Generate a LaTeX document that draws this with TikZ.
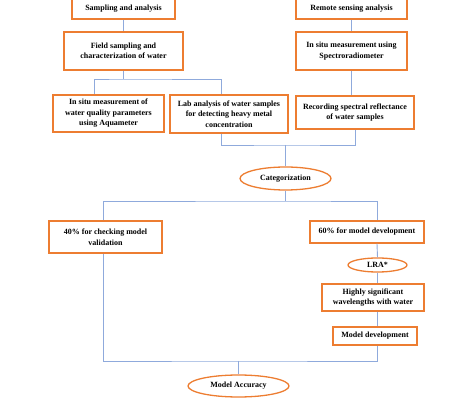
\documentclass[tikz,border=0pt]{standalone}
\usepackage{fontspec}
\setmainfont{Liberation Serif}
\usetikzlibrary{shapes.geometric}
\definecolor{boxorange}{HTML}{ED7D31}
\definecolor{linkblue}{HTML}{8FAADC}

\begin{document}
\begin{tikzpicture}[x=1pt,y=-1pt,
  box/.style={draw=boxorange,line width=1.3pt,fill=white,inner sep=1pt,align=center,
    font=\fontsize{8}{10.5}\selectfont\bfseries},
  oval/.style={box,ellipse},
  link/.style={draw=linkblue,line width=0.9pt}]
\useasboundingbox (0,0) rectangle (474,403);

\node[box,minimum width=103pt,minimum height=20pt] (samp) at (123.5,9) {Sampling and analysis};
\node[box,minimum width=111pt,minimum height=20pt] (remote) at (351.5,9) {Remote sensing analysis};
\node[box,minimum width=119pt,minimum height=38pt] (field) at (123.5,51) {Field sampling and\\characterization of water};
\node[box,minimum width=111pt,minimum height=38pt] (spectro) at (351.5,51) {In situ measurement using\\Spectroradiometer};
\node[box,minimum width=111pt,minimum height=37pt] (insitu) at (108.5,113.5) {In situ measurement of\\water quality parameters\\using Aquameter};
\node[box,minimum width=118pt,minimum height=38pt] (lab) at (229,114) {Lab analysis of water samples\\for detecting heavy metal\\concentration};
\node[box,minimum width=118pt,minimum height=33pt] (rec) at (355,112.5) {Recording spectral reflectance\\of water samples};
\node[oval,minimum width=91pt,minimum height=23pt] (cat) at (285.5,178.5) {Categorization};
\node[box,minimum width=113pt,minimum height=32pt] (forty) at (105.5,237) {40\% for checking model\\validation};
\node[box,minimum width=114pt,minimum height=22pt] (sixty) at (367,232) {60\% for model development};
\node[oval,minimum width=59pt,minimum height=14pt,inner sep=0pt] (lra) at (377.5,265) {LRA*};
\node[box,minimum width=102pt,minimum height=27pt] (high) at (373,297.5) {Highly significant\\wavelengths with water};
\node[box,minimum width=84pt,minimum height=18pt] (model) at (375,336) {Model development};
\node[oval,minimum width=101pt,minimum height=22pt] (acc) at (238.5,386) {Model Accuracy};

% junctions
\coordinate (j1) at (123.5,79);
\coordinate (j2) at (285.5,145);
\coordinate (j3) at (285.5,201);
\coordinate (j4) at (238.5,361);

\path[link] (samp) -- (field);
\path[link] (remote) -- (spectro);
\path[link] (field) -- (j1);
\path[link] ([xshift=-14.5pt]insitu.north) |- (j1) -| ([xshift=-8pt]lab.north);
\path[link] (spectro.south) -- (spectro.south |- rec.north);
\path[link] ([xshift=-8pt]lab.south) |- (j2) -| (rec.south);
\path[link] (j2) -- (cat);
\path[link] (cat) -- (j3);
\path[link] ([xshift=-2pt]forty.north) |- (j3) -| ([xshift=10pt]sixty.north);
\path[link] ([xshift=10pt]sixty.south) -- (lra.north);
\path[link] (lra.south) -- (lra.south |- high.north);
\path[link] (high.south -| lra.south) -- (lra.south |- model.north);
\path[link] ([xshift=-2pt]forty.south) |- (j4) -| ([xshift=2pt]model.south);
\path[link] (j4) -- (acc);
\end{tikzpicture}
\end{document}
